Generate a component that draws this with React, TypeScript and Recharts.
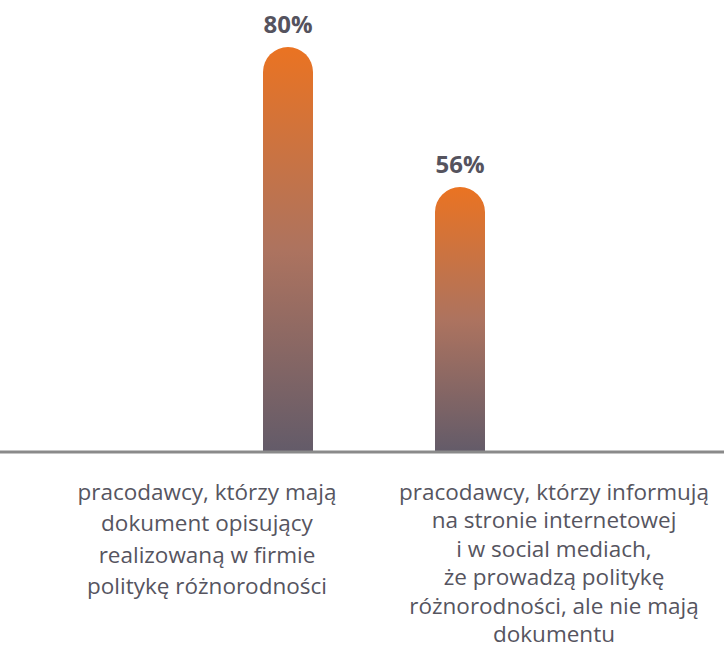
import { BarChart, Bar, XAxis, YAxis, LabelList } from "recharts";

const categories = ["dokument", "strona"];
const values = [80, 56];
const tickLines = [
  ["pracodawcy, którzy mają", "dokument opisujący", "realizowaną w firmie", "politykę różnorodności"],
  [
    "pracodawcy, którzy informują",
    "na stronie internetowej",
    "i w social mediach,",
    "że prowadzą politykę",
    "różnorodności, ale nie mają",
    "dokumentu",
  ],
];

const data = categories.map((c, i) => ({ name: c, value: values[i] }));

// the labels in the picture are not centred under the bars
const tickShift = [-81, 94];
const tickPitch = [31.3, 28.4];
const tickFirst = [40, 40];

function CategoryTick(props: any) {
  const { x, y, index } = props;
  const lines = tickLines[index] || [];
  return (
    <text
      x={x + tickShift[index]}
      y={y}
      textAnchor="middle"
      fill="#56555f"
      fontSize={22.5}
      fontFamily="'Open Sans', sans-serif"
    >
      {lines.map((l, i) => (
        <tspan key={i} x={x + tickShift[index]} y={y + tickFirst[index] + i * tickPitch[index]}>
          {l}
        </tspan>
      ))}
    </text>
  );
}

export default function App() {
  return (
    <div style={{ position: "absolute", left: 0, top: 0, width: 724, height: 647, background: "#fff" }}>
      <BarChart width={724} height={647} data={data} margin={{ top: 47, right: 0, bottom: 0, left: 0 }}>
        <defs>
          <linearGradient id="barGrad" x1="0" y1="0" x2="0" y2="1">
            <stop offset="0%" stopColor="#ea7322" />
            <stop offset="50%" stopColor="#ad735f" />
            <stop offset="100%" stopColor="#635b69" />
          </linearGradient>
        </defs>
        <YAxis hide domain={[10.6, 80]} allowDataOverflow />
        <Bar dataKey="value" fill="url(#barGrad)" barSize={50} radius={[25, 25, 0, 0]} isAnimationActive={false}>
          <LabelList
            dataKey="value"
            position="top"
            offset={14}
            formatter={(v: any) => `${v}%`}
            fill="#55535e"
            fontSize={24}
            fontWeight={700}
            fontFamily="'Open Sans', sans-serif"
          />
        </Bar>
        <XAxis
          dataKey="name"
          height={195}
          padding={{ left: 202, right: 178 }}
          axisLine={{ stroke: "#8a8a8a", strokeWidth: 3 }}
          tickLine={false}
          interval={0}
          tick={<CategoryTick />}
        />
      </BarChart>
    </div>
  );
}
